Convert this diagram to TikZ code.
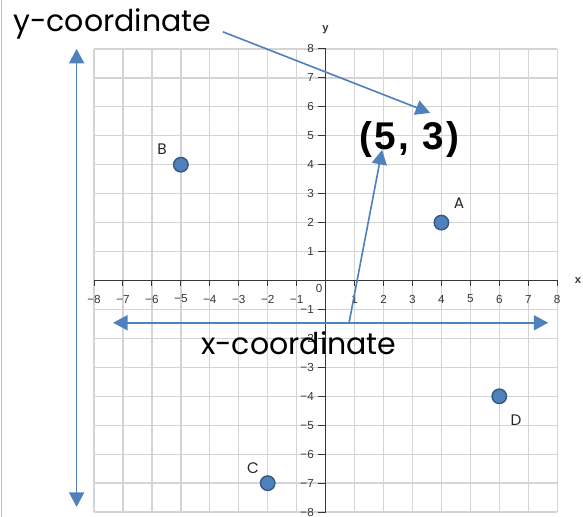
\documentclass[tikz,border=0pt]{standalone}
\usepackage{fontspec}
\setmainfont{Poppins}
\newfontfamily\numfont{Liberation Sans}
\newfontfamily\pairfont[LetterSpace=6]{Liberation Sans}
\usetikzlibrary{arrows.meta}
\definecolor{ptblue}{RGB}{79,129,189}
\definecolor{ptedge}{RGB}{52,88,132}
\definecolor{gridgray}{RGB}{212,212,212}
\definecolor{axisgray}{RGB}{55,55,55}

\begin{document}
\begin{tikzpicture}[
    dot/.style={circle,fill=ptblue,draw=ptedge,line width=1.4pt,minimum size=0.5cm,inner sep=0pt},
    ptlabel/.style={font=\fontsize{15}{15}\selectfont,text=black!85,inner sep=0pt},
    ticklabel/.style={font=\numfont\fontsize{11.5}{12}\selectfont,text=axisgray,inner sep=0pt},
    bigtext/.style={font=\fontsize{29.5}{30}\selectfont,anchor=base west,inner sep=0pt},
    bluearrow/.style={ptblue,line width=1.6pt,-{Triangle[width=0.52cm,length=0.5cm]}},
  ]
    \useasboundingbox (-11.247,-8.169) rectangle (8.891,9.689);
    \draw[gray!50,line width=1pt] (-11.2,-8.169) -- (-11.2,9.689);

    % grid and axes
    \draw[gridgray,line width=1.3pt] (-8,-8) grid (8,8);
    \draw[axisgray,line width=0.9pt] (-8,0) -- (8,0);
    \draw[axisgray,line width=0.9pt] (0,-8) -- (0,8);
    \foreach \k in {-8,...,8} {
        \draw[axisgray,line width=0.9pt] (\k,0) -- (\k,-0.2);
        \draw[axisgray,line width=0.9pt] (0,\k) -- (-0.25,\k);
    }
    \foreach \k in {1,...,8} {
        \node[ticklabel] (xp\k) at (\k,-0.64) {\k};
        \node[ticklabel] (xn\k) at (-\k,-0.64) {−\k};
        \node[ticklabel,anchor=east] (yp\k) at (-0.4,\k) {\k};
        \node[ticklabel,anchor=east] (yn\k) at (-0.4,-\k) {−\k};
    }
    \node[ticklabel] (zero) at (-0.22,-0.27) {0};
    \node[ticklabel,font=\numfont\bfseries\fontsize{11}{11}\selectfont] (xname) at (8.72,0) {x};
    \node[ticklabel,font=\numfont\bfseries\fontsize{11}{11}\selectfont] (yname) at (0,8.65) {y};

    % points
    \node[dot] (A) at (4,2) {};
    \node[dot] (B) at (-5,4) {};
    \node[dot] (C) at (-2,-7) {};
    \node[dot] (D) at (6,-4) {};
    \node[ptlabel] (labA) at (4.61,2.68) {A};
    \node[ptlabel] (labB) at (-5.65,4.54) {B};
    \node[ptlabel] (labC) at (-2.51,-6.48) {C};
    \node[ptlabel] (labD) at (6.58,-4.82) {D};

    % texts
    \node[bigtext] (ycoord) at (-10.80,8.59) {y-coordinate};
    \node[bigtext] (xcoord) at (-4.31,-2.55) {x-coordinate};
    \node[bigtext,font=\pairfont\bfseries\fontsize{38}{38}\selectfont] (pair) at (1.17,4.51) {(5, 3)};

    % arrows
    \coordinate (vtop) at (-8.6,8.0);
    \coordinate (vbot) at (-8.6,-7.82);
    \coordinate (hleft) at (-7.34,-1.46);
    \coordinate (hright) at (7.69,-1.46);
    \coordinate (xfoot) at (0.81,-1.46);
    \coordinate (xtip) at (1.95,4.51);
    \coordinate (yfoot) at (-3.55,8.59);
    \coordinate (ytip) at (3.61,5.79);
    \draw[bluearrow,{Triangle[width=0.52cm,length=0.5cm]}-{Triangle[width=0.52cm,length=0.5cm]}] (vtop) -- (vbot);
    \draw[bluearrow,{Triangle[width=0.52cm,length=0.5cm]}-{Triangle[width=0.52cm,length=0.5cm]}] (hleft) -- (hright);
    \draw[bluearrow] (xfoot) -- (xtip);
    \draw[bluearrow] (yfoot) -- (ytip);
\end{tikzpicture}
\end{document}
